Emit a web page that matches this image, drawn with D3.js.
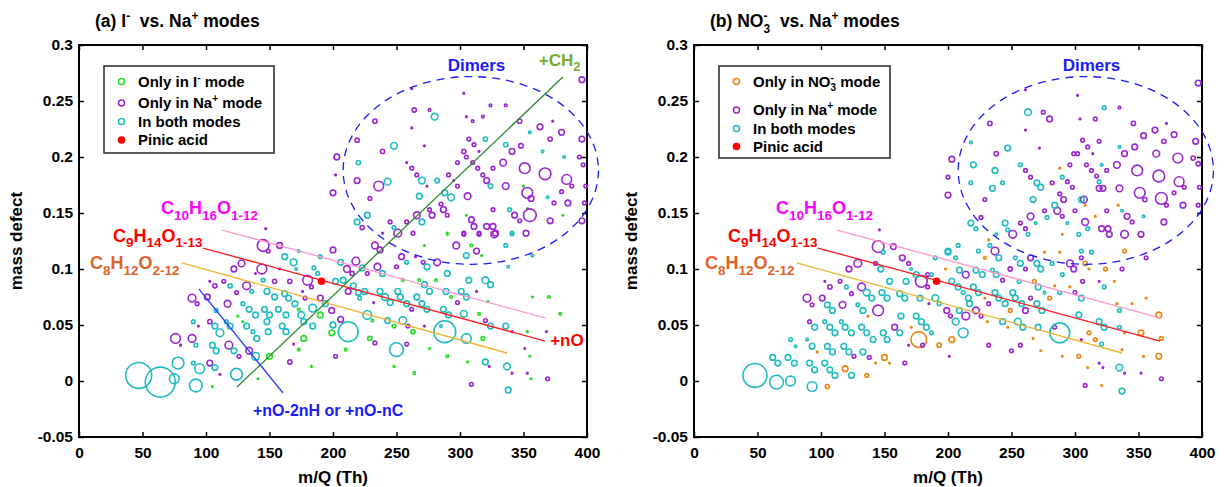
<!DOCTYPE html>
<html lang="en">
<head>
<meta charset="UTF-8">
<title>Mass defect plots</title>
<script src="https://d3js.org/d3.v7.min.js"></script>
<style>
  body { margin: 0; background: #fff; }
  svg text { font-family: "Liberation Sans", Arial, sans-serif; font-weight: bold; }
</style>
</head>
<body>
<div id="chart"></div>
<script>
// ---- data: [m/Q, mass defect, relative signal] ----
const aOnlyI = [
  [350,0.174,1],[305,0.148,1],[353,0.154,1],[381,0.148,1],[290,0.132,1],
  [309,0.121,1.5],[290,0.131,1],[272,0.121,1],[317,0.112,1],[255,0.090,1.5],[268,0.090,1.5],
  [281,0.090,1.5],[293,0.075,1.5],[315,0.060,1.5],[322,0.071,1],[353,0.044,1],[355,0.022,1],
  [357,0.075,1],[370,0.075,1.5],[379,0.060,1.5],[356,0.002,1],[306,0.017,1],[318,0.038,2],
  [290,0.022,1.5],[276,0.029,1],[263,0.044,2.3],[248,0.049,2],[231,0.054,1.5],[229,0.038,2.3],
  [210,0.028,1.5],[199,0.043,3],[248,0.013,1],[264,0.007,1.5],
  [173,0.064,1.5],[190,0.059,3],[125,0.058,1],[129,0.053,1],[173,0.028,1.5],[183,0.013,1],
  [177,0.038,3],[150,0.022,3],[141,0.002,1],[105,-0.005,1]
];
const aOnlyNa = [
  [396,0.269,3],[262,0.261,1],[303,0.257,1],[264,0.242,2.3],[276,0.242,1.5],[324,0.246,1.5],
  [336,0.246,1.5],[305,0.236,1],[318,0.236,1.5],[233,0.232,2.3],[310,0.232,1.5],[262,0.226,1],
  [347,0.232,2.3],[363,0.227,3],[373,0.232,1],[380,0.222,3],[219,0.215,2.3],[307,0.216,2],
  [371,0.216,2.3],[396,0.216,3],[272,0.210,1],[311,0.211,2],[239,0.205,2.3],[303,0.205,2.3],
  [315,0.205,1],[348,0.210,2.5],[341,0.205,3],[203,0.200,3],[305,0.200,2],[298,0.195,2],
  [258,0.195,1],[262,0.190,2],[310,0.195,2],[314,0.190,2],[326,0.190,2],[334,0.195,3.5],
  [351,0.190,5.5],[367,0.185,6],[394,0.200,2],[397,0.193,2],[202,0.184,1],[219,0.179,3],
  [236,0.174,5],[266,0.184,2],[274,0.174,1],[291,0.184,2],[295,0.179,1],[298,0.174,2],
  [318,0.184,2],[321,0.179,3],[336,0.174,3.5],[353,0.168,5.5],[384,0.180,5],[388,0.174,2],
  [399,0.174,2],[200,0.168,3],[229,0.163,2],[306,0.165,3.5],[356,0.163,3],[380,0.169,2],
  [374,0.159,2],[385,0.159,3],[398,0.159,2],[285,0.158,2],[276,0.153,2],[287,0.153,3],
  [278,0.148,3],[266,0.148,3.5],[223,0.137,2.3],[245,0.142,2],[258,0.142,2],[251,0.132,4],
  [239,0.132,1],[263,0.132,2],[290,0.148,2],[309,0.144,3],[311,0.138,3],[315,0.132,2],
  [321,0.138,3],[326,0.138,3],[328,0.132,3],[326,0.153,2],[343,0.148,3],[347,0.143,2],
  [355,0.148,6.5],[352,0.132,3],[371,0.143,3],[396,0.143,3],[303,0.132,2],[147,0.136,1],
  [200,0.117,3],[218,0.107,4],[211,0.100,3.5],[215,0.096,2.3],[227,0.096,2],[233,0.121,3.5],
  [237,0.117,3],[235,0.102,3.5],[250,0.102,2],[254,0.111,3],[265,0.111,1],[271,0.106,2],
  [282,0.106,3.5],[313,0.116,3],[297,0.121,3.5],[327,0.131,3.5],[303,0.131,2],[315,0.131,2],
  [212,0.080,3],[232,0.070,1],[262,0.064,2],[298,0.070,2],[313,0.080,1],[320,0.054,2],
  [341,0.044,1],[351,0.029,1],[341,0.007,1],[369,0.002,2],[353,0.007,1],[309,-0.003,2],
  [323,0.013,1],[272,0.049,1],[259,0.049,2],[233,0.034,2],[258,0.033,2],[206,0.055,3],
  [202,0.022,2],[368,0.044,1],
  [145,0.121,6],[149,0.116,2],[158,0.121,3],[128,0.105,3.5],[122,0.100,3],[144,0.100,5],
  [139,0.096,1],[154,0.089,2.3],[166,0.089,2.3],[158,0.100,1],[180,0.090,5],[183,0.084,2],
  [103,0.089,1],[107,0.085,2.3],[114,0.089,2],[132,0.085,4],[124,0.079,2],[176,0.080,1],
  [178,0.074,2],[190,0.074,3],[199,0.063,3],[89,0.074,4],[93,0.069,2],[101,0.075,3],
  [117,0.069,3.5],[169,0.033,1],[166,0.017,2.3],[94,0.049,1],[103,0.053,2.3],[76,0.038,5],
  [80,0.032,1],[89,0.038,4],[118,0.032,4],[126,0.022,2],[134,0.027,3.5],[103,0.016,3],[111,0.006,1]
];
const aBoth = [
  [280,0.236,3.5],[355,0.222,1.5],[320,0.216,2.3],[248,0.210,3.5],[336,0.211,2.3],[365,0.205,1.5],
  [220,0.195,2.3],[382,0.200,1.5],[243,0.178,3.5],[270,0.179,3.5],[282,0.179,2.5],[324,0.174,2.5],
  [268,0.165,3],[288,0.168,3],[293,0.164,3.5],[369,0.164,1.5],[270,0.142,3],[227,0.148,3],
  [219,0.142,3],[248,0.137,2],[339,0.153,2],[341,0.132,2],
  [206,0.106,3],[223,0.101,3],[239,0.096,3],[258,0.106,2],[274,0.102,3],[290,0.096,3],
  [305,0.112,3],[320,0.090,3.5],[324,0.086,3],[307,0.090,3],[336,0.121,2],[338,0.102,1.5],
  [357,0.112,1.5],[341,0.131,1.5],[202,0.089,3],[208,0.090,3],[216,0.085,3],[220,0.079,3],
  [221,0.074,2],[225,0.080,3],[237,0.080,3],[241,0.075,3.5],[245,0.070,3],[251,0.080,3],
  [253,0.075,3],[258,0.069,3],[266,0.075,3],[270,0.069,3],[274,0.064,3],[272,0.086,3],
  [276,0.080,3],[289,0.080,3],[287,0.064,3],[291,0.059,3],[301,0.080,3],[305,0.075,3],
  [303,0.060,3.5],[324,0.049,3],[336,0.049,3],[337,0.013,3.5],[320,0.017,3],[338,-0.008,3],
  [288,0.044,11],[285,0.049,1.5],[305,0.038,5],[255,0.054,4],[243,0.054,3],[227,0.059,4.5],
  [250,0.028,7],[212,0.044,10],[200,0.050,3],
  [173,0.116,1.5],[190,0.111,2],[162,0.111,3],[169,0.106,3.5],[185,0.101,2],[188,0.096,2],
  [171,0.100,1.5],[145,0.090,2],[119,0.085,2.3],[136,0.080,2],[148,0.080,3],[154,0.075,3],
  [162,0.078,3],[165,0.074,3],[170,0.069,3],[184,0.065,4],[194,0.069,3],[108,0.063,2],
  [129,0.069,2],[134,0.064,3],[139,0.059,3],[146,0.064,3],[150,0.059,3],[157,0.064,3],
  [163,0.059,3],[175,0.059,3.5],[184,0.049,3],[177,0.053,3],[132,0.049,3],[140,0.038,3],
  [137,0.044,2],[148,0.053,3],[149,0.044,3],[160,0.049,3],[163,0.044,3],[90,0.053,2],
  [107,0.049,3],[111,0.043,4],[116,0.053,2],[119,0.049,3],[92,0.032,2],[105,0.032,3],
  [108,0.027,3],[122,0.027,3],[139,0.022,4],[78,0.016,6],[90,0.016,2],[95,0.011,5],
  [107,0.012,3],[124,0.006,6],[47,0.005,13],[64,-0.001,15],[75,0.002,5],[92,-0.004,6.5]
];
const bOnlyNO3 = [
  [288,0.190,1],[308,0.157,1],[334,0.157,1],[316,0.147,1],[290,0.131,1],
  [232,0.126,1],[229,0.110,1.5],[276,0.115,1],[288,0.115,1],[308,0.105,2.3],[311,0.100,1],
  [324,0.100,2],[339,0.116,2],[331,0.089,1],[296,0.084,1],[284,0.085,1],[268,0.089,2],
  [280,0.074,2],[249,0.063,2],[229,0.074,1],[267,0.038,1],[247,0.048,1],[231,0.053,1],
  [203,0.037,3],[273,0.027,1],[290,0.022,1],[303,0.022,2],[311,0.043,2],[316,0.037,2],
  [310,0.012,1],[321,-0.004,1],[333,0.069,1],[345,0.069,1],[352,0.043,3],[339,0.043,1],
  [366,0.059,3],[368,0.038,2],[366,0.022,3],[354,0.022,1],[337,0.028,1],[356,0.074,1],
  [198,0.100,1],[137,0.058,1],[171,0.048,1],[177,0.037,8],[193,0.032,2.3],[97,0.026,1],
  [150,0.021,3],[143,0.016,1],[154,0.016,1],[119,0.011,3],[136,0.005,2],[105,-0.005,2.3]
];
const bOnlyNa = [
  [397,0.266,3],[302,0.255,1],[261,0.260,1],[275,0.240,2],[280,0.234,3],[335,0.244,1.5],
  [233,0.230,2.3],[304,0.234,1],[316,0.234,2],[261,0.224,1],[346,0.230,2.3],[363,0.224,3],
  [372,0.230,1],[354,0.219,3],[378,0.220,3],[272,0.208,1],[306,0.215,2],[319,0.214,2],
  [347,0.209,3],[310,0.209,2],[370,0.214,2.3],[395,0.214,3],[238,0.203,2.3],[299,0.203,2],
  [302,0.203,2],[314,0.203,1],[339,0.203,3],[364,0.203,3.5],[381,0.199,5],[393,0.199,2.3],
  [397,0.194,2.3],[203,0.198,3],[261,0.188,2],[265,0.182,2],[282,0.177,2],[296,0.193,2],
  [294,0.178,2],[298,0.173,2],[309,0.193,2],[313,0.188,2],[317,0.183,2],[325,0.188,2],
  [319,0.172,3],[322,0.172,3],[333,0.193,3.5],[349,0.188,5.5],[366,0.183,6],[382,0.178,5],
  [386,0.173,2],[398,0.173,2],[200,0.182,2],[200,0.166,3],[229,0.162,2],[288,0.167,2],
  [291,0.162,3],[307,0.162,3.5],[335,0.172,3.5],[351,0.168,5.5],[355,0.162,2.3],[368,0.163,6],
  [372,0.157,2],[378,0.168,2],[385,0.157,3],[397,0.157,2],[265,0.147,3.5],[276,0.152,2],
  [286,0.152,3.5],[290,0.147,2],[300,0.152,2],[325,0.152,2],[341,0.147,3],[345,0.142,2],
  [370,0.142,3],[226,0.146,2],[257,0.141,2],[261,0.136,2],[251,0.131,4],[308,0.142,3.5],
  [321,0.136,3],[326,0.136,3],[327,0.131,3],[339,0.131,4],[352,0.131,3],[146,0.135,1],
  [237,0.116,4],[265,0.110,3],[249,0.100,2.3],[261,0.100,2],[296,0.105,3.5],[299,0.100,3],
  [305,0.110,2],[337,0.100,2],[356,0.110,2],[306,0.089,2],[319,0.089,1],[300,0.079,2],
  [265,0.074,2],[261,0.063,3],[232,0.069,2],[243,0.090,2],[214,0.095,3.5],[222,0.063,3.5],
  [226,0.058,2],[214,0.058,4],[202,0.058,2],[199,0.063,3],[232,0.032,2],[250,0.027,2],
  [257,0.032,2],[284,0.048,2],[305,0.037,1],[319,0.016,1],[322,0.012,1],[339,0.007,1],
  [352,0.007,1],[368,0.002,2],[308,-0.004,2],[201,0.022,1],
  [145,0.120,6],[157,0.120,3],[164,0.110,3],[169,0.105,2],[129,0.105,4],[122,0.100,3],
  [143,0.105,2],[179,0.089,6],[184,0.095,2],[184,0.084,2],[103,0.089,1],[107,0.084,2.3],
  [115,0.089,2],[132,0.084,4],[124,0.078,2],[89,0.074,4],[93,0.068,2],[101,0.074,3],
  [117,0.068,3.5],[145,0.063,5.5],[185,0.069,1],[158,0.048,3],[180,0.032,2],[91,0.053,2],
  [126,0.022,2],[138,0.021,2],[166,0.016,2],[169,0.032,1]
];
const bBoth = [
  [263,0.240,3.5],[323,0.244,2],[218,0.213,1.5],[247,0.208,3],[335,0.209,1.5],[220,0.193,3],
  [237,0.188,3],[257,0.193,2],[270,0.177,3],[273,0.173,3],[290,0.182,2],[321,0.193,1.5],
  [319,0.178,2],[218,0.177,2],[235,0.172,3],[243,0.177,2],[267,0.162,3],[305,0.162,3],
  [278,0.146,2],[284,0.157,3],[337,0.152,1.5],[354,0.147,1.5],[218,0.141,3],[222,0.136,2],
  [245,0.141,3],[247,0.135,2],[269,0.141,1.5],[238,0.131,1.5],[263,0.131,2],[310,0.136,2],
  [303,0.131,2],[294,0.141,1.5],
  [208,0.121,2],[200,0.116,3],[224,0.116,2],[233,0.121,2],[240,0.110,3],[253,0.110,2],
  [257,0.105,3],[270,0.105,3],[273,0.100,3],[282,0.105,2],[305,0.116,2],[313,0.115,2],
  [290,0.095,2],[323,0.084,2],[305,0.074,3],[256,0.089,2],[271,0.084,3],[276,0.079,1.5],
  [288,0.079,2],[270,0.069,3],[274,0.063,3],[258,0.069,3],[251,0.079,3],[253,0.074,3],
  [240,0.074,3],[245,0.069,3],[237,0.079,3],[224,0.079,3],[220,0.084,3],[216,0.074,3],
  [217,0.069,3],[212,0.079,2],[208,0.084,3],[203,0.089,3],[209,0.099,3],[222,0.099,3],
  [227,0.095,3],[235,0.099,2],[238,0.095,3],[206,0.110,2],[209,0.063,3],[206,0.053,3.5],
  [243,0.053,3],[255,0.053,3.5],[259,0.048,3],[271,0.048,3],[288,0.043,10],[212,0.043,5],
  [321,0.033,2],[303,0.059,3],[319,0.053,3],[323,0.048,3],[335,0.048,2],[335,0.063,2],
  [335,0.012,3.5],[337,-0.009,3],
  [149,0.115,2],[190,0.110,2],[200,0.115,3],[147,0.100,3],[154,0.089,3],[167,0.089,3],
  [171,0.100,1.5],[175,0.095,3],[187,0.095,2],[120,0.084,2],[136,0.079,3.5],[140,0.074,3],
  [148,0.079,3],[152,0.074,3],[162,0.078,3],[166,0.074,3],[178,0.074,3],[190,0.074,3.5],
  [193,0.069,2],[105,0.068,3],[109,0.063,3],[129,0.068,2],[133,0.063,3],[163,0.058,3],
  [175,0.058,3],[179,0.053,3],[183,0.048,3],[162,0.043,3],[187,0.043,2],[95,0.048,3],
  [103,0.053,2],[107,0.048,3],[111,0.043,3],[116,0.053,2],[119,0.048,3],[124,0.043,3],
  [132,0.048,3],[136,0.043,3],[141,0.037,3],[149,0.043,3],[152,0.037,3],[76,0.037,2],
  [80,0.031,1.5],[89,0.037,1.5],[93,0.031,3],[105,0.031,3],[109,0.026,3],[118,0.031,3],
  [122,0.026,3],[133,0.026,3],[62,0.021,3],[66,0.016,3],[74,0.021,3],[79,0.016,3],
  [91,0.016,3],[95,0.010,3],[103,0.016,3],[107,0.010,3],[111,0.005,3],[124,0.005,3],
  [48,0.005,12],[65,-0.001,7],[76,0.000,5],[93,-0.005,5]
];
const pinicAcid = [[191, 0.089]];

// homologous-series guide lines [start, end] in (m/Q, mass defect)
const lineC10 = [[112.6, 0.1348], [367, 0.0563]];
const lineC9  = [[97.6, 0.1187], [367, 0.0357]];
const lineC8  = [[81, 0.1054], [337, 0.025]];
const lineCH2 = [[124.4, -0.0054], [381, 0.2714]];
const lineOxid = [[94.5, 0.0821], [160.6, -0.0107]];
const dimerEllipse = { cx: 308.5, cy: 0.188, rx: 100.5, ry: 0.0838 };

const xTicks = [0, 50, 100, 150, 200, 250, 300, 350, 400];
const yTicks = [-0.05, 0, 0.05, 0.1, 0.15, 0.2, 0.25, 0.3];

// ---- colours ----
const col = {
  onlyI: '#22dd22', onlyNa: '#9b27cf', both: '#1fbcc0', onlyNO3: '#e8860f', pinic: '#ff0000',
  c10: '#ff99cc', c9: '#ff1a1a', c8: '#f2b233', ch2: '#2e8b2e', oxid: '#2a3cff',
  c10Label: '#ff00ff', c9Label: '#ff0000', c8Label: '#e2622a', ch2Label: '#77ac30', blue: '#1a1aff'
};

const W = 1230, H = 487;
const plotW = 508, plotH = 392, plotTop = 45;
const svg = d3.select('#chart').append('svg').attr('width', W).attr('height', H);

const x = d3.scaleLinear().domain([0, 400]).range([0, plotW]);
const y = d3.scaleLinear().domain([-0.05, 0.3]).range([plotH, 0]);
const r = d3.scaleLinear().domain([1, 15]).range([0.8, 15]);
const lineGen = d3.line().x(d => x(d[0])).y(d => y(d[1]));

// text with sub/superscripts; parts = [[text, kind]], kind '' | 'sub' | 'sup' | 'stack'
function rich(textSel, parts, size, subSize) {
  let shift = 0, prev = null, pendingDx = 0;
  parts.forEach(([t, kind]) => {
    let target = 0;
    if (kind === 'sub') target = size * 0.32;
    if (kind === 'sup' || kind === 'stack') target = -size * 0.38;
    const ts = textSel.append('tspan').text(t)
      .attr('dy', target - shift)
      .attr('font-size', kind ? subSize : size);
    if (kind === 'stack' && prev) {
      const lp = prev.node().getComputedTextLength();
      ts.attr('dx', -lp);
      pendingDx = Math.max(0, lp - ts.node().getComputedTextLength());
    } else if (pendingDx) {
      ts.attr('dx', pendingDx);
      pendingDx = 0;
    }
    shift = target;
    prev = ts;
  });
}

function drawPanel(left, opts) {
  const g = svg.append('g').attr('transform', `translate(${left},${plotTop})`);

  // axes with inward ticks on all sides
  const fmt = d => String(+d.toFixed(2));
  g.append('g').attr('transform', `translate(0,${plotH})`)
    .call(d3.axisBottom(x).tickValues(xTicks).tickFormat(fmt).tickSizeInner(-5).tickSizeOuter(0).tickPadding(10));
  g.append('g')
    .call(d3.axisLeft(y).tickValues(yTicks).tickFormat(fmt).tickSizeInner(-5).tickSizeOuter(0).tickPadding(6));
  const topAx = g.append('g')
    .call(d3.axisTop(x).tickValues(xTicks).tickSizeInner(-5).tickSizeOuter(0));
  const rightAx = g.append('g').attr('transform', `translate(${plotW},0)`)
    .call(d3.axisRight(y).tickValues(yTicks).tickSizeInner(-5).tickSizeOuter(0));
  topAx.selectAll('text').remove();
  rightAx.selectAll('text').remove();
  g.selectAll('.domain').remove();
  g.selectAll('.tick line').attr('stroke', '#000').attr('stroke-width', 1.5);
  g.selectAll('.tick text').attr('font-size', 15.5).attr('fill', '#000')
    .style('font-family', '"Liberation Sans", Arial, sans-serif').style('font-weight', 'bold');
  g.append('rect').attr('width', plotW).attr('height', plotH)
    .attr('fill', 'none').attr('stroke', '#000').attr('stroke-width', 2);

  // scatter series
  opts.series.forEach(([data, color]) => {
    g.append('g').selectAll('circle').data(data).join('circle')
      .attr('cx', d => x(d[0])).attr('cy', d => y(d[1])).attr('r', d => r(d[2]))
      .attr('fill', 'none').attr('stroke', color).attr('stroke-width', 1.6);
  });

  // guide lines
  opts.lines.forEach(([pts, color]) => {
    g.append('path').attr('d', lineGen(pts)).attr('fill', 'none')
      .attr('stroke', color).attr('stroke-width', 1.3);
  });

  g.selectAll('.pinic').data(pinicAcid).join('circle')
    .attr('cx', d => x(d[0])).attr('cy', d => y(d[1])).attr('r', 3.8).attr('fill', col.pinic);

  // dimer ellipse
  g.append('ellipse')
    .attr('cx', x(dimerEllipse.cx)).attr('cy', y(dimerEllipse.cy))
    .attr('rx', x(dimerEllipse.rx) - x(0)).attr('ry', y(0) - y(dimerEllipse.ry))
    .attr('fill', 'none').attr('stroke', col.blue).attr('stroke-width', 1.3)
    .attr('stroke-dasharray', '8,6');
  g.append('text').attr('x', x(313)).attr('y', y(0.2765)).attr('text-anchor', 'middle')
    .attr('font-size', 17).attr('fill', col.blue).text('Dimers');

  // formula labels
  rich(g.append('text').attr('x', x(64.5)).attr('y', y(0.149)).attr('fill', col.c10Label),
    [['C', ''], ['10', 'sub'], ['H', ''], ['16', 'sub'], ['O', ''], ['1-12', 'sub']], 18, 13.5);
  rich(g.append('text').attr('x', x(26.8)).attr('y', y(0.1245)).attr('fill', col.c9Label),
    [['C', ''], ['9', 'sub'], ['H', ''], ['14', 'sub'], ['O', ''], ['1-13', 'sub']], 18, 13.5);
  rich(g.append('text').attr('x', x(8.7)).attr('y', y(0.1)).attr('fill', col.c8Label),
    [['C', ''], ['8', 'sub'], ['H', ''], ['12', 'sub'], ['O', ''], ['2-12', 'sub']], 18, 13.5);

  if (opts.extra) opts.extra(g);

  // title
  rich(svg.append('text').attr('x', left + 16).attr('y', 27).attr('fill', '#000'), opts.title, 17.5, 12);

  // axis labels
  svg.append('text').attr('x', left + plotW / 2).attr('y', 483).attr('text-anchor', 'middle')
    .attr('font-size', 17).text('m/Q (Th)');
  svg.append('text').attr('transform', `translate(${left - 57},${plotTop + plotH / 2}) rotate(-90)`)
    .attr('text-anchor', 'middle').attr('font-size', 17).text('mass defect');

  // legend
  const lg = svg.append('g').attr('transform', `translate(${left + opts.legend.dx},66)`);
  lg.append('rect').attr('width', opts.legend.w).attr('height', opts.legend.h)
    .attr('fill', '#fff').attr('stroke', '#333').attr('stroke-width', 1.6);
  opts.legend.items.forEach((it, i) => {
    const yy = opts.legend.rows[i];
    if (it.filled) lg.append('circle').attr('cx', 17.5).attr('cy', yy).attr('r', 3.8).attr('fill', it.color);
    else lg.append('circle').attr('cx', 17.5).attr('cy', yy).attr('r', 3).attr('fill', 'none')
      .attr('stroke', it.color).attr('stroke-width', 1.5);
    rich(lg.append('text').attr('x', 34).attr('y', yy + 5).attr('fill', '#000'), it.label, 15, 10);
  });
}

drawPanel(79, {
  series: [[aOnlyI, col.onlyI], [aOnlyNa, col.onlyNa], [aBoth, col.both]],
  lines: [[lineC10, col.c10], [lineC9, col.c9], [lineC8, col.c8], [lineCH2, col.ch2], [lineOxid, col.oxid]],
  title: [['(a) I', ''], ['-', 'sup'], ['\u00a0\u00a0vs. Na', ''], ['+', 'sup'], [' modes', '']],
  legend: {
    dx: 25, w: 170, h: 87, rows: [15.5, 37, 55.5, 74],
    items: [
      { color: col.onlyI, label: [['Only in I', ''], ['-', 'sup'], [' mode', '']] },
      { color: col.onlyNa, label: [['Only in Na', ''], ['+', 'sup'], [' mode', '']] },
      { color: col.both, label: [['In both modes', '']] },
      { color: col.pinic, filled: true, label: [['Pinic acid', '']] }
    ]
  },
  extra: g => {
    g.append('text').attr('x', x(371)).attr('y', y(0.0315)).attr('font-size', 17)
      .attr('fill', col.c9Label).text('+nO');
    g.append('text').attr('x', x(137)).attr('y', y(-0.0315)).attr('font-size', 16)
      .attr('fill', col.blue).text('+nO-2nH or +nO-nC');
    rich(g.append('text').attr('x', x(362)).attr('y', y(0.2815)).attr('fill', col.ch2Label),
      [['+CH', ''], ['2', 'sub']], 17, 13);
  }
});

drawPanel(694, {
  series: [[bOnlyNO3, col.onlyNO3], [bOnlyNa, col.onlyNa], [bBoth, col.both]],
  lines: [[lineC10, col.c10], [lineC9, col.c9], [lineC8, col.c8]],
  title: [['(b) NO', ''], ['3', 'sub'], ['-', 'stack'], ['\u00a0\u00a0vs. Na', ''], ['+', 'sup'], [' modes', '']],
  legend: {
    dx: 25, w: 171, h: 92, rows: [15.5, 44, 62.5, 80.5],
    items: [
      { color: col.onlyNO3, label: [['Only in NO', ''], ['3', 'sub'], ['-', 'stack'], [' mode', '']] },
      { color: col.onlyNa, label: [['Only in Na', ''], ['+', 'sup'], [' mode', '']] },
      { color: col.both, label: [['In both modes', '']] },
      { color: col.pinic, filled: true, label: [['Pinic acid', '']] }
    ]
  }
});
</script>
</body>
</html>
